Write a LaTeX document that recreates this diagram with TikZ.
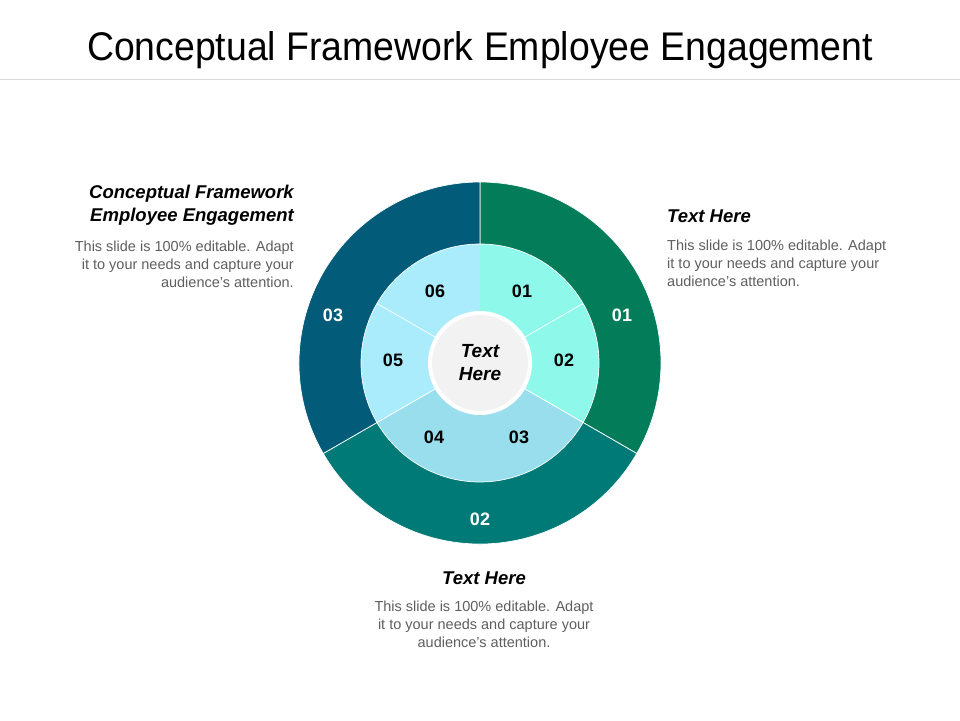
\documentclass[tikz,border=0pt]{standalone}
\usepackage{fontspec}
\usepackage{graphicx}
\setmainfont{Liberation Sans}
\definecolor{ringgreen}{RGB}{3, 125, 89}
\definecolor{ringteal}{RGB}{0, 122, 119}
\definecolor{ringblue}{RGB}{1, 91, 121}
\definecolor{aquaseg}{RGB}{142, 249, 234}
\definecolor{skyseg}{RGB}{152, 222, 237}
\definecolor{paleseg}{RGB}{170, 235, 252}
\definecolor{hubgrey}{RGB}{242, 242, 242}
\definecolor{bodygrey}{RGB}{95, 95, 95}
\definecolor{rulegrey}{RGB}{217, 217, 217}
\usetikzlibrary{positioning}
\tikzset{
    wedge/.style={draw=white, line width=0.7pt},
    outernum/.style={font=\fontsize{18}{20}\selectfont\bfseries, text=white},
    innernum/.style={font=\fontsize{18}{20}\selectfont\bfseries, text=black},
    hub/.style={circle, minimum size=100, inner sep=0pt, draw=white, line width=4pt,
                fill=hubgrey, align=center, font=\fontsize{19}{23}\selectfont\bfseries\itshape},
    headtext/.style={font=\fontsize{18.5}{23}\selectfont\bfseries\itshape, inner sep=0pt},
    bodytext/.style={font=\fontsize{14.5}{18}\selectfont, text=bodygrey, inner sep=0pt},
}

\begin{document}
\begin{tikzpicture}[x=1pt, y=1pt]
    \useasboundingbox (0,0) rectangle (960,720);
    \fill[white] (0,0) rectangle (960,720);

    % Title
    \node[font=\fontsize{40}{44}\selectfont] (title) at (480,670) {\scalebox{0.935}[1]{Conceptual Framework Employee Engagement}};
    \coordinate (ruleL) at (0,641);
    \coordinate (ruleR) at (960,641);
    \draw[rulegrey, line width=0.8pt] (ruleL) -- (ruleR);

    % Outer ring
    \coordinate (c) at (480,357);
    \filldraw[wedge, fill=ringgreen] (c) -- ++(90:181) arc[start angle=90, end angle=-30, radius=181] -- cycle;
    \filldraw[wedge, fill=ringteal] (c) -- ++(-30:181) arc[start angle=-30, end angle=-150, radius=181] -- cycle;
    \filldraw[wedge, fill=ringblue] (c) -- ++(210:181) arc[start angle=210, end angle=90, radius=181] -- cycle;

    % Inner ring
    \filldraw[wedge, fill=aquaseg] (c) -- ++(90:119) arc[start angle=90, end angle=-30, radius=119] -- cycle;
    \filldraw[wedge, fill=skyseg] (c) -- ++(-30:119) arc[start angle=-30, end angle=-150, radius=119] -- cycle;
    \filldraw[wedge, fill=paleseg] (c) -- ++(210:119) arc[start angle=210, end angle=90, radius=119] -- cycle;
    \fill[aquaseg] (c) -- ++(90:118) arc[start angle=90, end angle=60, radius=118] -- cycle;
    \fill[paleseg] (c) -- ++(90:118) arc[start angle=90, end angle=120, radius=118] -- cycle;
    \draw[wedge] (c) -- ++(30:119);
    \draw[wedge] (c) -- ++(150:119);

    % Hub
    \node[hub] (hub) at (c) {Text\\Here};

    % Segment numbers
    \node[outernum] (o1) at (622,405) {01};
    \node[outernum] (o2) at (480,201) {02};
    \node[outernum] (o3) at (333,405) {03};
    \node[innernum] (i1) at (522,429) {01};
    \node[innernum] (i2) at (564,360) {02};
    \node[innernum] (i3) at (519,283) {03};
    \node[innernum] (i4) at (434,283) {04};
    \node[innernum] (i5) at (393,360) {05};
    \node[innernum] (i6) at (435,429) {06};

    % Left text
    \node[headtext, anchor=east, align=right] (headL) at (294,515) {Conceptual Framework\\Employee Engagement};
    \node[bodytext, anchor=east, align=right] (bodyL) at (294,456) {This slide is 100\% editable.  Adapt\\it to your needs and capture your\\audience's attention.};

    % Right text
    \node[headtext, anchor=west] (headR) at (667,504) {Text Here};
    \node[bodytext, anchor=west, align=left] (bodyR) at (667,457) {This slide is 100\% editable.  Adapt\\it to your needs and capture your\\audience's attention.};

    % Bottom text
    \node[headtext] (headB) at (484,142) {Text Here};
    \node[bodytext, align=center] (bodyB) at (484,96) {This slide is 100\% editable.  Adapt\\it to your needs and capture your\\audience's attention.};
\end{tikzpicture}
\end{document}
